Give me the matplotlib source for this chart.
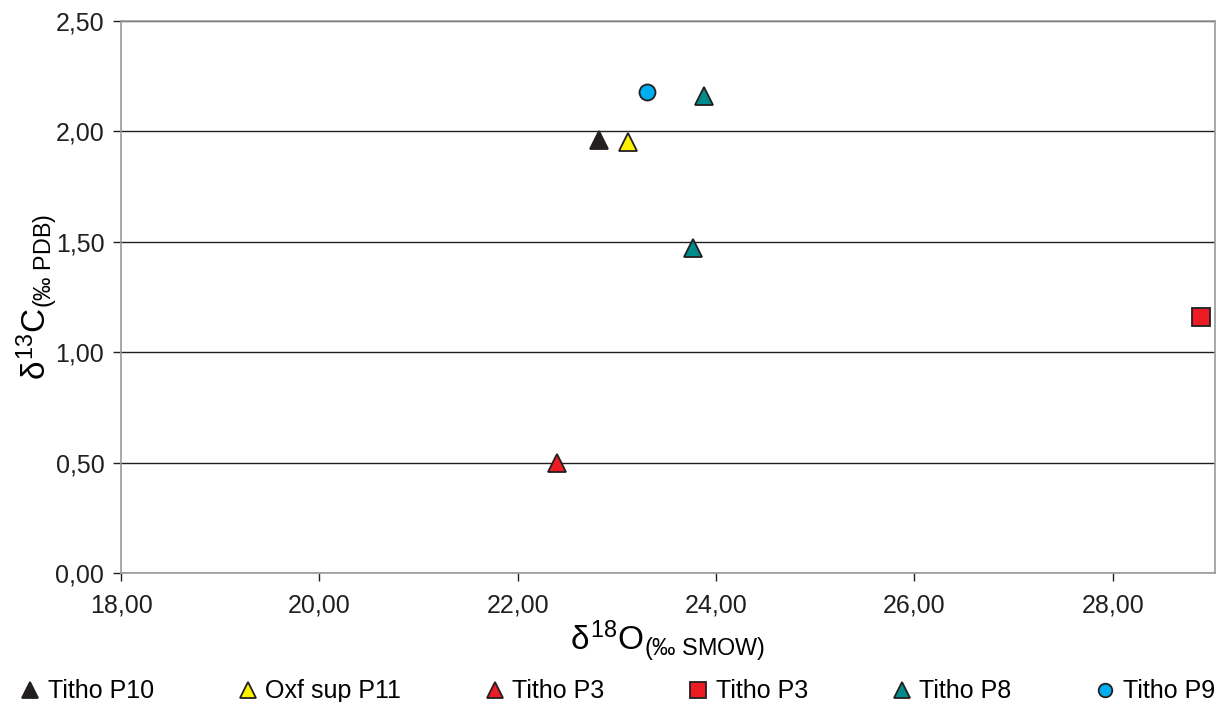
import matplotlib.pyplot as plt
from matplotlib.ticker import FuncFormatter

plt.rcParams['font.family'] = ['Liberation Sans', 'DejaVu Sans']
plt.rcParams['mathtext.fontset'] = 'custom'
plt.rcParams['mathtext.rm'] = 'Liberation Sans'
plt.rcParams['mathtext.it'] = 'Liberation Sans'

# données
series_labels = ['Titho P10', 'Oxf sup P11', 'Titho P3', 'Titho P3', 'Titho P8', 'Titho P9']
series_x = [[22.82], [23.11], [22.40], [28.89], [23.88, 23.77], [23.30]]
series_y = [[1.96], [1.95], [0.50], [1.16], [2.16, 1.47], [2.18]]
series_markers = ['^', '^', '^', 's', '^', 'o']
series_colors = ['#231f20', '#fff200', '#ed1c24', '#ed1c24', '#008b8b', '#00aeef']

x_ticks = [18, 20, 22, 24, 26, 28]
y_ticks = [0, 0.5, 1.0, 1.5, 2.0, 2.5]


def virgule(v, pos):
    return f'{v:.2f}'.replace('.', ',')


def main():
    fig = plt.figure(figsize=(12.16, 7.02), dpi=100)
    ax = fig.add_axes([121 / 1216, 1 - 573 / 702, (1215 - 121) / 1216, (573 - 21) / 702])

    for lab, xs, ys, m, c in zip(series_labels, series_x, series_y, series_markers, series_colors):
        ax.plot(xs, ys, linestyle='none', marker=m, markersize=13 if m != 'o' else 11.5,
                markerfacecolor=c, markeredgecolor='#231f20', markeredgewidth=1.3,
                label=lab, zorder=3)

    ax.set_xlim(18, 29.03)
    ax.set_ylim(0, 2.5)
    ax.set_xticks(x_ticks)
    ax.set_yticks(y_ticks)
    ax.xaxis.set_major_formatter(FuncFormatter(virgule))
    ax.yaxis.set_major_formatter(FuncFormatter(virgule))
    ax.tick_params(labelsize=18, colors='#231f20', length=6, width=1, direction='out')
    ax.tick_params(axis='x', pad=9)
    ax.tick_params(axis='y', pad=6)
    for sp in ax.spines.values():
        sp.set_color('#999999')
        sp.set_linewidth(1.2)
    ax.yaxis.grid(True, color='#231f20', linewidth=1)
    ax.set_axisbelow(True)

    ax.set_xlabel(r'$\delta^{18}$O$_{(‰\ SMOW)}$', fontsize=24, labelpad=1)
    ax.set_ylabel(r'$\delta^{13}$C$_{(‰\ PDB)}$', fontsize=24, labelpad=-3)

    fig.legend(loc='lower center', bbox_to_anchor=(0.507, -0.034), ncol=6, frameon=False,
               fontsize=18, handletextpad=0.2, columnspacing=3.25, handlelength=1.0,
               markerscale=0.85)

    fig.savefig('out.png', dpi=100)


if __name__ == "__main__":
    main()
